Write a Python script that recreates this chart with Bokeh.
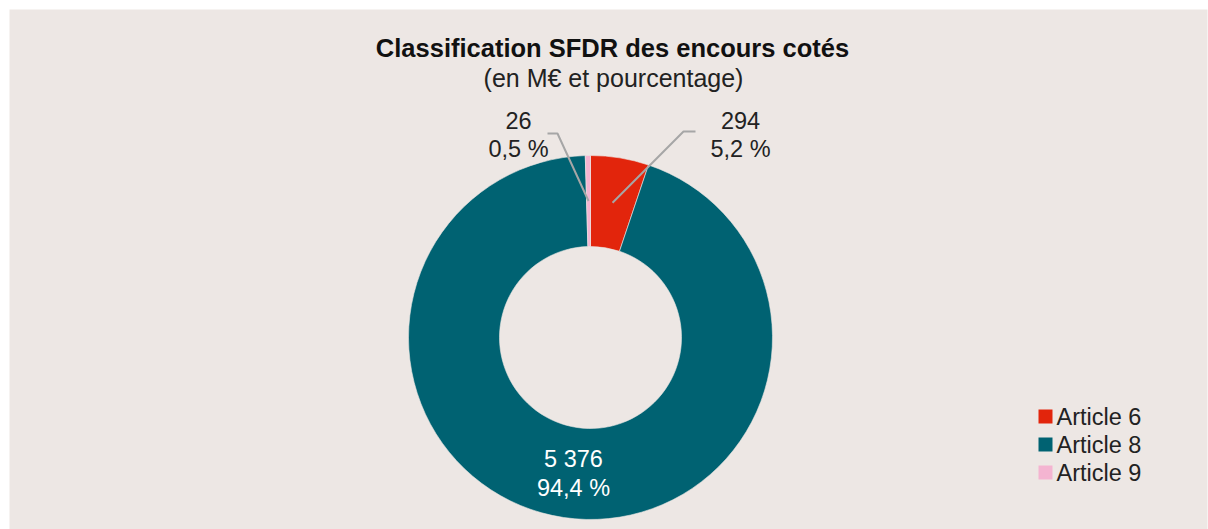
import math
from bokeh.plotting import figure
from bokeh.models import Range1d, BoxAnnotation, ColumnDataSource
from bokeh.core.properties import value
from bokeh.embed import file_html
from bokeh.resources import INLINE

# ---- data ----
categories = ["Article 6", "Article 8", "Article 9"]
amounts = [294, 5376, 26]
colors = ["#e2250c", "#006272", "#f4b4d1"]
title_text = "Classification SFDR des encours cotés"
subtitle_text = "(en M€ et pourcentage)"

W, H = 1208, 529
p = figure(width=W, height=H, output_backend="svg", toolbar_location=None,
           x_range=Range1d(0, W), y_range=Range1d(0, H), min_border=0,
           border_fill_color="white", background_fill_color="white",
           outline_line_color=None)
p.axis.visible = False
p.grid.visible = False

p.add_layout(BoxAnnotation(left=9, right=1207, bottom=0, top=H - 9,
                           fill_color="#ede7e4", fill_alpha=1, line_color=None, level="underlay"))

FONT = "Liberation Sans"
cx, cy = 590, H - 337
r_out, r_in = 182, 91

total = sum(amounts)
fracs = [a / total for a in amounts]
starts, ends = [], []
cum = 0.0
for f in fracs:
    # clockwise from 12 o'clock
    ends.append(math.pi / 2 - 2 * math.pi * cum)
    cum += f
    starts.append(math.pi / 2 - 2 * math.pi * cum)

src = ColumnDataSource(dict(cat=categories, start=starts, end=ends, color=colors))
p.annular_wedge(x=cx, y=cy, inner_radius=r_in, outer_radius=r_out,
                start_angle="start", end_angle="end", direction="anticlock",
                fill_color="color", line_color="#ede7e4", line_width=0.6, source=src)

def fmt_amount(v):
    return f"{v:,}".replace(",", " ")

def fmt_pct(f):
    return f"{f * 100:.1f}".replace(".", ",") + " %"

mids = [(s + e) / 2 for s, e in zip(starts, ends)]
r_mid = (r_in + r_out) / 2

# label placement (layout)
label_layout = {
    "Article 6": dict(ex=683, ey=H - 131, hx=695, lx=740, ly=H - 120),
    "Article 9": dict(ex=557, ey=H - 133, hx=547, lx=518, ly=H - 120),
}

LBL = "23.5px"
for cat, a, f, m in zip(categories, amounts, fracs, mids):
    if cat in label_layout:
        L = label_layout[cat]
        px, py = cx + r_mid * math.cos(m), cy + r_mid * math.sin(m)
        p.line([px, L["ex"], L["hx"]], [py, L["ey"], L["ey"]], line_color="#a6a6a6", line_width=2)
        p.text(x=[L["lx"], L["lx"]], y=[L["ly"], L["ly"] - 28],
               text=[fmt_amount(a), fmt_pct(f)], text_align="center", text_baseline="middle",
               text_font=value(FONT), text_font_size=LBL, text_color="#222222")
    else:
        lx = 573
        p.text(x=[lx, lx], y=[H - 458, H - 487], text=[fmt_amount(a), fmt_pct(f)],
               text_align="center", text_baseline="middle",
               text_font=value(FONT), text_font_size=LBL, text_color="#ffffff")

# title
p.text(x=[612], y=[H - 47], text=[title_text], text_align="center", text_baseline="middle",
       text_font=value(FONT), text_font_size="25.5px", text_font_style="bold", text_color="#111111")
p.text(x=[613], y=[H - 77], text=[subtitle_text], text_align="center", text_baseline="middle",
       text_font=value(FONT), text_font_size="25px", text_color="#222222")

# legend
ly0 = H - 416
for i, (cat, col) in enumerate(zip(categories, colors)):
    y = ly0 - 28 * i
    p.rect(x=[1045], y=[y], width=14, height=14, fill_color=col, line_color=None)
    p.text(x=[1056], y=[y], text=[cat], text_align="left", text_baseline="middle",
           text_font=value(FONT), text_font_size="23.5px", text_color="#222222")

open("out.html", "w").write(file_html(p, INLINE))
